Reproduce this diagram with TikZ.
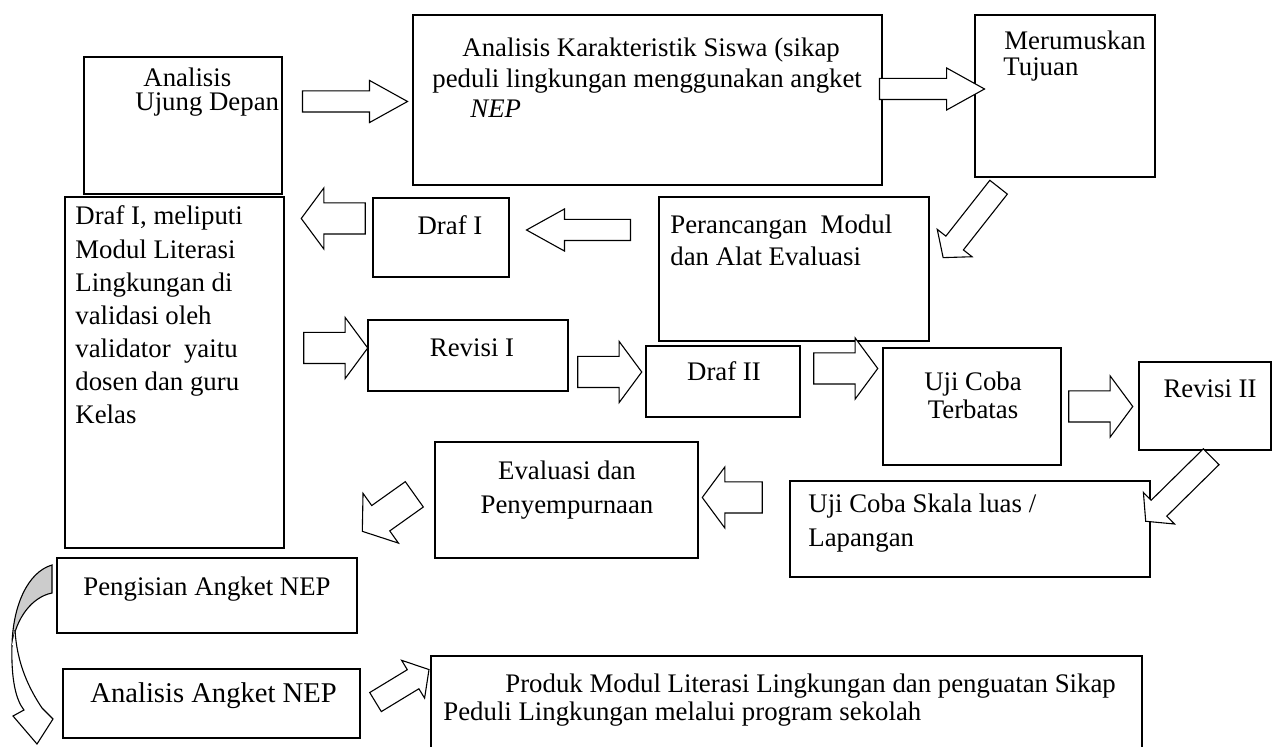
\documentclass[tikz,border=0pt]{standalone}
\usepackage{fontspec}
\setmainfont{Liberation Serif}
\usetikzlibrary{calc,fit,shapes.arrows}
\tikzset{
  flowBox/.style={draw, line width=0.65pt, inner sep=0pt},
  flowText/.style={font=\fontsize{13.4}{16}\selectfont, inner sep=0pt, anchor=base},
  flowTextL/.style={flowText, anchor=base west},
  fatArrow/.style={single arrow, draw, line width=0.55pt, fill=white, inner sep=0pt,
    text height=#1, text depth=#1},
  longArrow/.style={fatArrow=5pt, single arrow head extend=5.25pt, single arrow tip angle=58},
  shortArrow/.style={fatArrow=7.5pt, single arrow head extend=7.5pt, single arrow tip angle=107},
  slantArrow/.style={fatArrow=5.3pt, single arrow head extend=5.5pt, single arrow tip angle=100}
}
\newcommand\blockArrow[3]{%
  \path let \p1=($(#3)-(#2)$), \n1={veclen(\x1,\y1)} in
    (#2) -- (#3) node[midway, sloped, allow upside down, #1, minimum height=\n1] {};}

\begin{document}
\begin{tikzpicture}[x=0.5pt, y=-0.5pt]
  \useasboundingbox (0,0) rectangle (1272,747);

  % boxes
  \node[flowBox, fit={(84,57) (282,194)}] (ujung) {};
  \node[flowBox, fit={(413,15) (882,185)}] (karak) {};
  \node[flowBox, fit={(975,15) (1155,177)}] (tujuan) {};
  \node[flowBox, fit={(659,197) (929,341)}] (rancang) {};
  \node[flowBox, fit={(373,198) (509,277)}] (drafSatu) {};
  \node[flowBox, fit={(65,197) (284,548)}] (meliputi) {};
  \node[flowBox, fit={(368,320) (568,391)}] (revSatu) {};
  \node[flowBox, fit={(646,346) (800,417)}] (drafDua) {};
  \node[flowBox, fit={(883,348) (1061,465)}] (ujiBatas) {};
  \node[flowBox, fit={(1139,362) (1271,450)}] (revDua) {};
  \node[flowBox, fit={(435,442) (698,558)}] (evaluasi) {};
  \node[flowBox, fit={(790,481) (1150,577)}] (skala) {};
  \node[flowBox, fit={(57,558) (357,633)}] (pengisian) {};
  \node[flowBox, fit={(63,669) (360,738)}] (angket) {};
  \node[flowBox, fit={(431,656) (1142,752)}] (produk) {};

  % texts
  \node[flowTextL] (ujungA) at (143,87) {Analisis};
  \node[flowTextL] (ujungB) at (135,111) {Ujung Depan};
  \node[flowTextL] (karakA) at (462,57) {Analisis Karakteristik Siswa (sikap};
  \node[flowTextL] (karakB) at (432,88) {peduli lingkungan menggunakan angket};
  \node[flowTextL] (karakC) at (470,118) {\itshape NEP};
  \node[flowTextL] (tujuanA) at (1004,50) {Merumuskan};
  \node[flowTextL] (tujuanB) at (1003,76) {Tujuan};
  \node[flowTextL] (rancangA) at (670,234) {Perancangan\ \ Modul};
  \node[flowTextL] (rancangB) at (670,266) {dan Alat Evaluasi};
  \node[flowText] (drafSatuT) at (450,235) {Draf I};
  \node[flowTextL] (melA) at (75,225) {Draf I, meliputi};
  \node[flowTextL] (melB) at (75,259) {Modul Literasi};
  \node[flowTextL] (melC) at (75,292) {Lingkungan di};
  \node[flowTextL] (melD) at (75,325) {validasi oleh};
  \node[flowTextL] (melE) at (75,358) {validator\ \ yaitu};
  \node[flowTextL] (melF) at (75,391) {dosen dan guru};
  \node[flowTextL] (melG) at (75,424) {Kelas};
  \node[flowText] (revSatuT) at (472,357) {Revisi I};
  \node[flowText] (drafDuaT) at (724,381) {Draf II};
  \node[flowText] (ujiA) at (973,391) {Uji Coba};
  \node[flowText] (ujiB) at (973,419) {Terbatas};
  \node[flowText] (revDuaT) at (1210,398) {Revisi II};
  \node[flowText] (evalA) at (567,480) {Evaluasi dan};
  \node[flowText] (evalB) at (567,514) {Penyempurnaan};
  \node[flowTextL] (skalaA) at (808,513) {Uji Coba Skala luas /};
  \node[flowTextL] (skalaB) at (808,546) {Lapangan};
  \node[flowTextL] (pengisianT) at (83,595) {Pengisian Angket NEP};
  \node[flowTextL, font=\fontsize{14.3}{17}\selectfont] (angketT) at (90,702) {Analisis Angket NEP};
  \node[flowTextL] (produkA) at (505,692) {Produk Modul Literasi Lingkungan dan penguatan Sikap};
  \node[flowTextL] (produkB) at (443,720) {Peduli Lingkungan melalui program sekolah};

  % arrow ends
  \coordinate (a1s) at (293,101.5);   \coordinate (a1e) at (398,101.5);
  \coordinate (a2s) at (870,89);      \coordinate (a2e) at (975,89);
  \coordinate (a3s) at (640,230);     \coordinate (a3e) at (536,230);
  \coordinate (a4s) at (371,218.5);   \coordinate (a4e) at (307,218.5);
  \coordinate (a5s) at (298,348);     \coordinate (a5e) at (362,348);
  \coordinate (a6s) at (572,372);     \coordinate (a6e) at (636,372);
  \coordinate (a7s) at (808,368.5);   \coordinate (a7e) at (872,368.5);
  \coordinate (a8s) at (1063,406.5);  \coordinate (a8e) at (1127,406.5);
  \coordinate (a9s) at (1001.5,183.5); \coordinate (a9e) at (946,254);
  \coordinate (a10s) at (1214.5,453.5); \coordinate (a10e) at (1149,518);
  \coordinate (a11s) at (768,497.5);  \coordinate (a11e) at (708,497.5);
  \coordinate (a12s) at (419,491);    \coordinate (a12e) at (367,528);
  \coordinate (a13s) at (371.5,704.5); \coordinate (a13e) at (425,672);

  \blockArrow{longArrow}{a1s}{a1e}
  \blockArrow{longArrow}{a2s}{a2e}
  \blockArrow{longArrow}{a3s}{a3e}
  \blockArrow{shortArrow}{a4s}{a4e}
  \blockArrow{shortArrow}{a5s}{a5e}
  \blockArrow{shortArrow}{a6s}{a6e}
  \blockArrow{shortArrow}{a7s}{a7e}
  \blockArrow{shortArrow}{a8s}{a8e}
  \blockArrow{slantArrow}{a9s}{a9e}
  \blockArrow{slantArrow}{a10s}{a10e}
  \blockArrow{shortArrow}{a11s}{a11e}
  \blockArrow{shortArrow}{a12s}{a12e}
  \blockArrow{slantArrow}{a13s}{a13e}

  % curved arrow, pengisian to angket
  \draw[line width=0.55pt, fill=gray!40] (52,565) .. controls (28,572) and (13,605) .. (12,645)
    .. controls (16,618) and (32,597) .. (52,593) -- cycle;
  \draw[line width=0.55pt, fill=white] (12,645) .. controls (11,680) and (16,700) .. (24,710)
    -- (13,716) -- (37,744) -- (53,719) -- (42,708) .. controls (30,690) and (17,665) .. (15,630);
\end{tikzpicture}
\end{document}
